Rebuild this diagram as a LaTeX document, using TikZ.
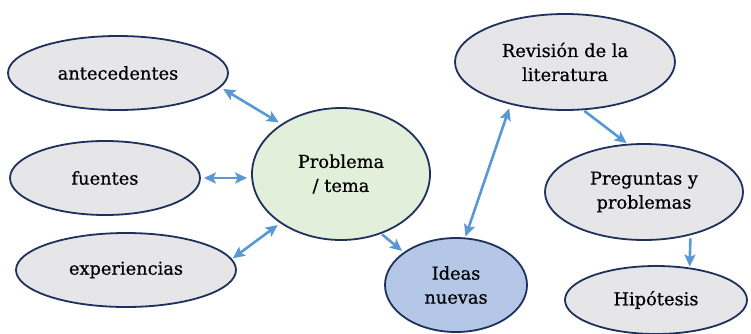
\documentclass[tikz,border=0pt]{standalone}
\usepackage{fontspec}
\setmainfont{DejaVu Serif}[RawFeature={embolden=0.6}]
\usetikzlibrary{shapes.geometric,arrows.meta}
\definecolor{rim}{RGB}{30,48,92}
\definecolor{greyfill}{RGB}{230,230,232}
\definecolor{greenfill}{RGB}{226,239,218}
\definecolor{bluefill}{RGB}{180,199,231}
\definecolor{link}{RGB}{88,152,212}
\tikzset{
  bubble/.style={ellipse, draw=rim, line width=1.8pt, fill=greyfill,
    inner sep=0pt, align=center, text=black,
    font=\fontsize{17.8}{24}\selectfont},
  tip/.style={Stealth[length=12pt,width=11pt,inset=2.5pt]},
  arr/.style={draw=link, line width=2.6pt, -{Stealth[length=12pt,width=11pt,inset=2.5pt]}},
  biarr/.style={draw=link, line width=2.6pt,
    {Stealth[length=12pt,width=11pt,inset=2.5pt]}-{Stealth[length=12pt,width=11pt,inset=2.5pt]}}
}
\begin{document}
\begin{tikzpicture}[x=1pt,y=1pt]
\useasboundingbox (0,0) rectangle (751,333);

% sources on the left
\node[bubble, minimum width=220, minimum height=74] (ante) at (118,260) {antecedentes};
\node[bubble, minimum width=190, minimum height=74] (fuen) at (105,155) {fuentes};
\node[bubble, minimum width=220, minimum height=74] (expe) at (126,63) {experiencias};

% central topic
\node[bubble, fill=greenfill, minimum width=178, minimum height=132] (prob) at (341,159) {Problema\\/ tema};
\node[bubble, fill=bluefill, minimum width=142, minimum height=94] (idea) at (456,48) {Ideas\\nuevas};

% right-hand chain
\node[bubble, minimum width=220, minimum height=96] (revi) at (565,271) {Revisión de la\\literatura};
\node[bubble, minimum width=198, minimum height=96] (preg) at (644,141) {Preguntas y\\problemas};
\node[bubble, minimum width=182, minimum height=68] (hipo) at (656,33) {Hipótesis};

% connectors
\draw[biarr, shorten <=3pt, shorten >=3pt] (ante.-8) -- (prob.140);
\draw[biarr, shorten <=3pt, shorten >=4pt] (fuen.east) -- (fuen.east -| prob.west);
\draw[biarr, shorten <=1pt, shorten >=3pt] (expe.6) -- (prob.219);
\draw[arr, shorten <=1pt, shorten >=2pt] (prob.-56) -- (idea.148);
\draw[biarr, shorten <=1pt, shorten >=4pt] (idea.79) -- (revi.218);
\draw[arr, shorten <=1pt, shorten >=1pt] (revi.-69) -- (preg.109);
\draw[arr, shorten <=3pt, shorten >=1pt] (preg.-43) -- (hipo.44);
\end{tikzpicture}
\end{document}
